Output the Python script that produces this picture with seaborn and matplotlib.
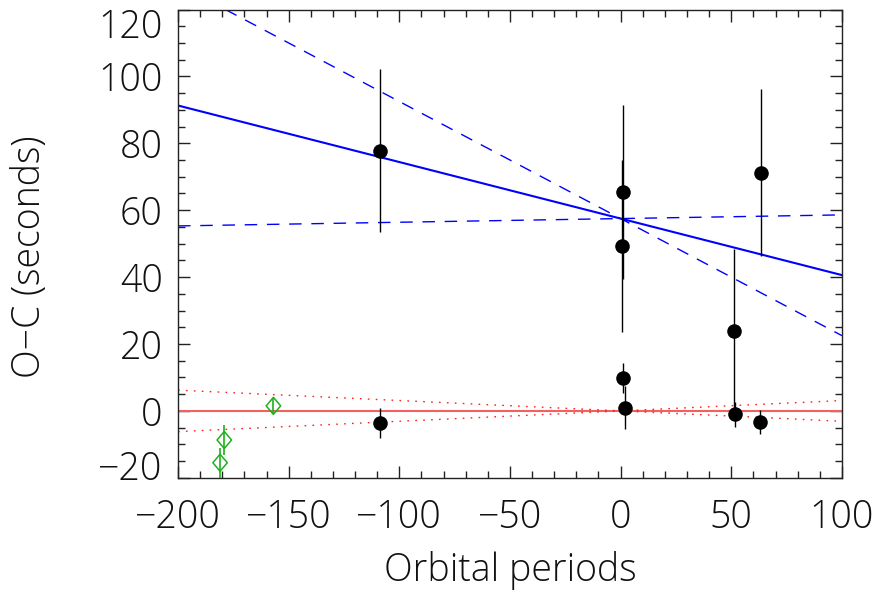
import matplotlib
matplotlib.use("Agg")
import matplotlib.pyplot as plt
import matplotlib.transforms as mtransforms
from matplotlib.path import Path
from matplotlib.ticker import MultipleLocator
import numpy as np
import pandas as pd
import seaborn as sns

# timing residuals (black points)
black_x = [-108.7, -108.7, 1.2, 0.5, 0.9, 2.0, 51.4, 51.8, 63.4, 63.0]
black_y = [77.8, -3.7, 65.4, 49.3, 9.9, 0.9, 23.8, -1.0, 71.2, -3.3]
black_err = [24.3, 4.5, 26.0, 25.8, 4.5, 6.4, 24.7, 3.7, 25.0, 3.5]

# older timings (green diamonds)
green_x = [-156.9, -179.1, -181.0]
green_y = [1.5, -8.7, -15.5]
green_err = [2.4, 4.4, 4.5]

# fitted ephemerides: intercept and slopes
blue_intercept = 57.5
blue_slopes = [-0.169, -0.350, 0.011]
red_intercept = 0.0
red_slopes = [0.0, -0.031, 0.031]

x_ticks = [-200, -150, -100, -50, 0, 50, 100]
y_ticks = [-20, 0, 20, 40, 60, 80, 100, 120]


def oc_plot():
    sns.set_theme(style="ticks")
    plt.rcParams["font.family"] = ["Open Sans", "DejaVu Sans"]
    plt.rcParams["font.weight"] = 300

    fig = plt.figure(figsize=(8.77, 5.95), dpi=100)
    ax = fig.add_axes([0.203, 0.197, 0.757, 0.787])

    black = pd.DataFrame({"x": black_x, "y": black_y, "err": black_err})
    green = pd.DataFrame({"x": green_x, "y": green_y, "err": green_err})

    # fits
    ax.axline((0, blue_intercept), slope=blue_slopes[0], color="#0000ff", lw=1.5, zorder=2)
    for m in blue_slopes[1:]:
        ax.axline((0, blue_intercept), slope=m, color="#0000ff", lw=1.0,
                  dashes=(9, 7), zorder=2)
    ax.axline((0, red_intercept), slope=red_slopes[0], color="#f26060", lw=1.5, zorder=2)
    for m in red_slopes[1:]:
        ax.axline((0, red_intercept), slope=m, color="#ff2020", lw=1.0,
                  dashes=(1.2, 4.5), zorder=2)

    # error bars
    ax.errorbar(black["x"], black["y"], yerr=black["err"], fmt="none",
                ecolor="black", elinewidth=1.0, capsize=0, zorder=3)
    ax.errorbar(green["x"], green["y"], yerr=green["err"], fmt="none",
                ecolor="#1fb01f", elinewidth=1.2, capsize=0, zorder=3)

    diamond = Path([(0, 1), (0.85, 0), (0, -1), (-0.85, 0), (0, 1)],
                   [Path.MOVETO, Path.LINETO, Path.LINETO, Path.LINETO, Path.CLOSEPOLY])

    sns.scatterplot(data=black, x="x", y="y", ax=ax, color="black", s=110,
                    marker="o", edgecolor="black", linewidth=0, zorder=4)
    sns.scatterplot(data=green, x="x", y="y", ax=ax, marker=diamond, s=150,
                    facecolor="none", edgecolor="#1fb01f", linewidth=1.1, zorder=4)

    ax.set_xlim(-200, 100)
    ax.set_ylim(-20, 120)
    ax.set_xticks(x_ticks)
    ax.set_yticks(y_ticks)
    ax.set_xticklabels(["\u2212" + str(-t) if t < 0 else str(t) for t in x_ticks])
    ax.set_yticklabels(["\u2212" + str(-t) if t < 0 else str(t) for t in y_ticks])
    ax.xaxis.set_minor_locator(MultipleLocator(10))
    ax.yaxis.set_minor_locator(MultipleLocator(5))

    ax.tick_params(which="both", direction="in", top=True, right=True,
                   color="#222222", width=1.0)
    ax.tick_params(which="major", length=8.6)
    ax.tick_params(which="minor", length=4.8)
    ax.tick_params(axis="x", which="major", labelsize=27, pad=15, labelcolor="#111111")
    ax.tick_params(axis="y", which="major", labelsize=27, pad=11, labelcolor="#111111")
    for s in ax.spines.values():
        s.set_color("#222222")
        s.set_linewidth(1.0)

    # end labels sit inside the frame, as in the original
    ylabels = ax.get_yticklabels()
    shift_up = mtransforms.ScaledTranslation(0, 13 / 100, fig.dpi_scale_trans)
    shift_dn = mtransforms.ScaledTranslation(0, -14 / 100, fig.dpi_scale_trans)
    ylabels[0].set_transform(ylabels[0].get_transform() + shift_up)
    ylabels[-1].set_transform(ylabels[-1].get_transform() + shift_dn)

    ax.set_xlabel("Orbital periods", fontsize=27, fontweight=300, color="#111111")
    ax.set_ylabel("O\u2212C (seconds)", fontsize=27, fontweight=300, color="#111111")
    ax.xaxis.set_label_coords(0.5, -0.156)
    ax.yaxis.set_label_coords(-0.194, 0.471)

    fig.savefig("out.png", dpi=100)


def main():
    oc_plot()


if __name__ == "__main__":
    main()
